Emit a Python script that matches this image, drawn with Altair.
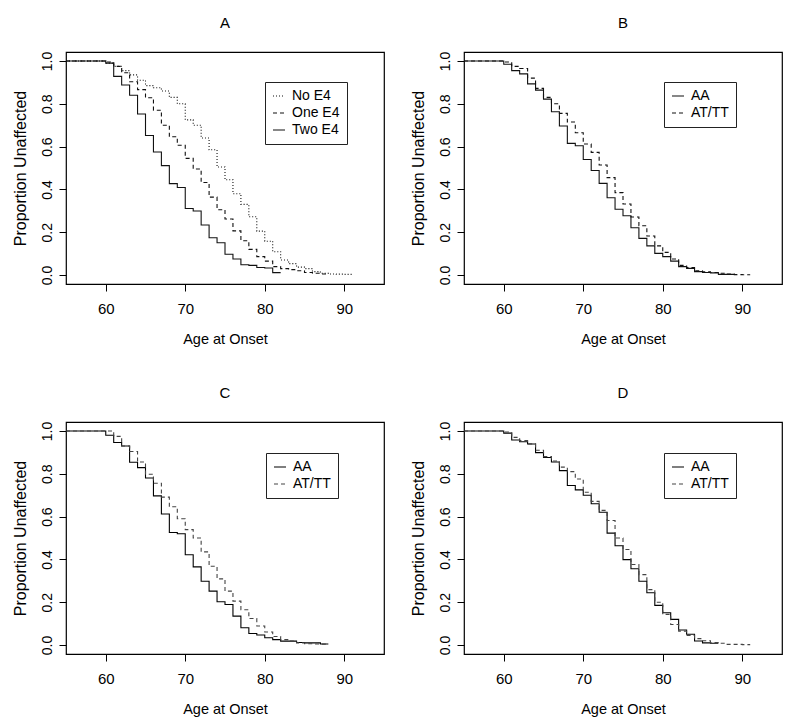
import altair as alt
import pandas as pd

FONT = "Liberation Sans"

# ---------------- Panel A ----------------
ages_a_none = [55, 60, 61, 62, 63, 64, 65, 66, 67, 68, 69, 70, 71, 72, 73, 74, 75,
               76, 77, 78, 79, 80, 81, 82, 83, 84, 85, 86, 87, 88, 89, 90, 91]
surv_a_none = [1.0, 0.99, 0.975, 0.955, 0.935, 0.91, 0.885, 0.875, 0.86, 0.83, 0.80,
               0.725, 0.70, 0.64, 0.585, 0.505, 0.445, 0.38, 0.33, 0.272, 0.205,
               0.158, 0.109, 0.07, 0.053, 0.037, 0.03, 0.016, 0.008, 0.005, 0.004,
               0.003, 0.003]
ages_a_one = [55, 60, 61, 62, 63, 64, 65, 66, 67, 68, 69, 70, 71, 72, 73, 74, 75,
              76, 77, 78, 79, 80, 81, 82, 83, 84, 85, 86, 87, 88]
surv_a_one = [1.0, 0.995, 0.975, 0.945, 0.903, 0.866, 0.828, 0.77, 0.70, 0.646,
              0.606, 0.545, 0.495, 0.432, 0.364, 0.305, 0.262, 0.206, 0.16, 0.12,
              0.086, 0.065, 0.039, 0.03, 0.025, 0.02, 0.012, 0.008, 0.005, 0.005]
ages_a_two = [55, 60, 61, 62, 63, 64, 65, 66, 67, 68, 69, 70, 71, 72, 73, 74, 75,
              76, 77, 78, 79, 80, 81, 82]
surv_a_two = [1.0, 0.99, 0.928, 0.888, 0.84, 0.752, 0.652, 0.575, 0.511, 0.427,
              0.409, 0.311, 0.299, 0.234, 0.174, 0.151, 0.097, 0.075, 0.048, 0.045,
              0.035, 0.033, 0.011, 0.011]
labels_a = ["No E4", "One E4", "Two E4"]

# ---------------- Panel B ----------------
ages_b_aa = [55, 60, 61, 62, 63, 64, 65, 66, 67, 68, 69, 70, 71, 72, 73, 74, 75,
             76, 77, 78, 79, 80, 81, 82, 83, 84, 85, 86, 87, 89]
surv_b_aa = [1.0, 0.985, 0.955, 0.94, 0.893, 0.864, 0.822, 0.763, 0.696, 0.615,
             0.604, 0.54, 0.488, 0.428, 0.361, 0.307, 0.277, 0.221, 0.171, 0.136,
             0.101, 0.086, 0.065, 0.039, 0.031, 0.016, 0.012, 0.01, 0.003, 0.003]
ages_b_at = [55, 60, 61, 62, 63, 64, 65, 66, 67, 68, 69, 70, 71, 72, 73, 74, 75,
             76, 77, 78, 79, 80, 81, 82, 83, 84, 85, 86, 87, 88, 89, 90, 91]
surv_b_at = [1.0, 0.995, 0.975, 0.965, 0.92, 0.872, 0.83, 0.80, 0.755, 0.715, 0.665,
             0.612, 0.573, 0.514, 0.455, 0.385, 0.332, 0.271, 0.23, 0.182, 0.136,
             0.106, 0.075, 0.045, 0.035, 0.02, 0.015, 0.012, 0.008, 0.004, 0.002,
             0.001, 0.001]

# ---------------- Panel C ----------------
ages_c_aa = [55, 60, 61, 62, 63, 64, 65, 66, 67, 68, 69, 70, 71, 72, 73, 74, 75,
             76, 77, 78, 79, 80, 81, 82, 83, 84, 85, 86, 87, 88]
surv_c_aa = [1.0, 0.98, 0.946, 0.93, 0.854, 0.829, 0.78, 0.697, 0.612, 0.526, 0.52,
             0.422, 0.365, 0.298, 0.252, 0.202, 0.189, 0.135, 0.081, 0.054, 0.047,
             0.034, 0.025, 0.018, 0.018, 0.012, 0.01, 0.01, 0.005, 0.005]
ages_c_at = [55, 60, 61, 62, 63, 64, 65, 66, 67, 68, 69, 70, 71, 72, 73, 74, 75,
             76, 77, 78, 79, 80, 81, 82, 83, 84, 85, 86, 87, 88]
surv_c_at = [1.0, 1.0, 0.975, 0.93, 0.904, 0.855, 0.798, 0.756, 0.691, 0.646, 0.59,
             0.539, 0.5, 0.435, 0.368, 0.309, 0.252, 0.205, 0.165, 0.124, 0.089,
             0.061, 0.04, 0.025, 0.018, 0.01, 0.006, 0.005, 0.004, 0.004]

# ---------------- Panel D ----------------
ages_d_aa = [55, 60, 61, 62, 63, 64, 65, 66, 67, 68, 69, 70, 71, 72, 73, 74, 75,
             76, 77, 78, 79, 80, 81, 82, 83, 84, 85, 86, 87]
surv_d_aa = [1.0, 0.99, 0.958, 0.95, 0.939, 0.899, 0.876, 0.855, 0.815, 0.745, 0.725,
             0.70, 0.66, 0.62, 0.523, 0.464, 0.399, 0.356, 0.298, 0.244, 0.185,
             0.151, 0.12, 0.07, 0.05, 0.019, 0.01, 0.008, 0.008]
ages_d_at = [55, 60, 61, 62, 63, 64, 65, 66, 67, 68, 69, 70, 71, 72, 73, 74, 75,
             76, 77, 78, 79, 80, 81, 82, 83, 84, 85, 86, 87, 88, 89, 90, 91]
surv_d_at = [1.0, 0.995, 0.97, 0.955, 0.94, 0.91, 0.88, 0.86, 0.831, 0.81, 0.776,
             0.714, 0.671, 0.629, 0.582, 0.5, 0.446, 0.376, 0.329, 0.259, 0.2, 0.143,
             0.096, 0.065, 0.045, 0.03, 0.02, 0.012, 0.008, 0.003, 0.003, 0.002,
             0.002]
labels_snp = ["AA", "AT/TT"]

x_ticks = [60, 70, 80, 90]
y_ticks = [0.0, 0.2, 0.4, 0.6, 0.8, 1.0]
x_title = "Age at Onset"
y_title = "Proportion Unaffected"


def km_panel(title, series, legend_x, legend_y):
    rows = []
    for name, ages, surv, dash, color in series:
        for a, s in zip(ages, surv):
            rows.append({"age": a, "surv": s, "group": name})
    df = pd.DataFrame(rows)
    names = [s[0] for s in series]
    dashes = [s[3] for s in series]
    colors = [s[4] for s in series]
    leg = alt.Legend(
        title=None, orient="none", legendX=legend_x, legendY=legend_y,
        strokeColor="#222222", fillColor="white", padding=7,
        labelFontSize=14, labelFont=FONT, labelColor="black", labelOffset=6,
        symbolType="stroke", symbolSize=144, symbolStrokeWidth=1.2,
        rowPadding=3, cornerRadius=0,
    )
    return alt.Chart(df).mark_line(
        interpolate="step-after", strokeWidth=1.1, clip=True
    ).encode(
        x=alt.X("age:Q",
                scale=alt.Scale(domain=[55, 95], nice=False, zero=False),
                axis=alt.Axis(values=x_ticks, title=x_title, format="d")),
        y=alt.Y("surv:Q",
                scale=alt.Scale(domain=[-0.042, 1.042], nice=False, zero=False),
                axis=alt.Axis(values=y_ticks, title=y_title, format=".1f")),
        strokeDash=alt.StrokeDash("group:N",
                                  scale=alt.Scale(domain=names, range=dashes),
                                  legend=leg),
        color=alt.Color("group:N",
                        scale=alt.Scale(domain=names, range=colors),
                        legend=leg),
    ).properties(width=318, height=232, title=title)


DOT = [1, 2]
DASH = [4, 3]
SOLID = [1, 0]

pa = km_panel("A", [
    (labels_a[0], ages_a_none, surv_a_none, DOT, "#111111"),
    (labels_a[1], ages_a_one, surv_a_one, DASH, "#111111"),
    (labels_a[2], ages_a_two, surv_a_two, SOLID, "#111111"),
], 199, 30)
pb = km_panel("B", [
    (labels_snp[0], ages_b_aa, surv_b_aa, SOLID, "#111111"),
    (labels_snp[1], ages_b_at, surv_b_at, DASH, "#111111"),
], 200, 30)
pc = km_panel("C", [
    (labels_snp[0], ages_c_aa, surv_c_aa, SOLID, "#000000"),
    (labels_snp[1], ages_c_at, surv_c_at, DASH, "#444444"),
], 200, 31)
pd_ = km_panel("D", [
    (labels_snp[0], ages_d_aa, surv_d_aa, SOLID, "#000000"),
    (labels_snp[1], ages_d_at, surv_d_at, DASH, "#444444"),
], 200, 31)

res = dict(color="independent", strokeDash="independent")
row1 = alt.hconcat(pa, pb, spacing=24).resolve_scale(**res).resolve_legend(**res)
row2 = alt.hconcat(pc, pd_, spacing=24).resolve_scale(**res).resolve_legend(**res)

chart = alt.vconcat(row1, row2, spacing=38).resolve_scale(**res).resolve_legend(**res).properties(
    padding={"left": 3, "top": 7, "right": 5, "bottom": 5},
    background="white",
).configure_view(
    stroke="black", strokeWidth=1.2
).configure_axis(
    domain=False, grid=False, tickColor="black", tickSize=7, tickWidth=1,
    labelFont=FONT, titleFont=FONT, labelFontSize=14, titleFontSize=14.5,
    titleFontWeight="normal", labelColor="black", titleColor="black",
).configure_axisX(
    labelPadding=10, titlePadding=16, labelFontSize=15,
).configure_axisY(
    labelAngle=270, labelAlign="center", labelBaseline="bottom",
    labelPadding=5, titlePadding=12, titleFontSize=16,
).configure_title(
    font=FONT, fontSize=15, fontWeight="normal", offset=20, color="black",
    anchor="middle",
)

chart.save("out.html", embed_options={"renderer": "svg", "actions": False})
